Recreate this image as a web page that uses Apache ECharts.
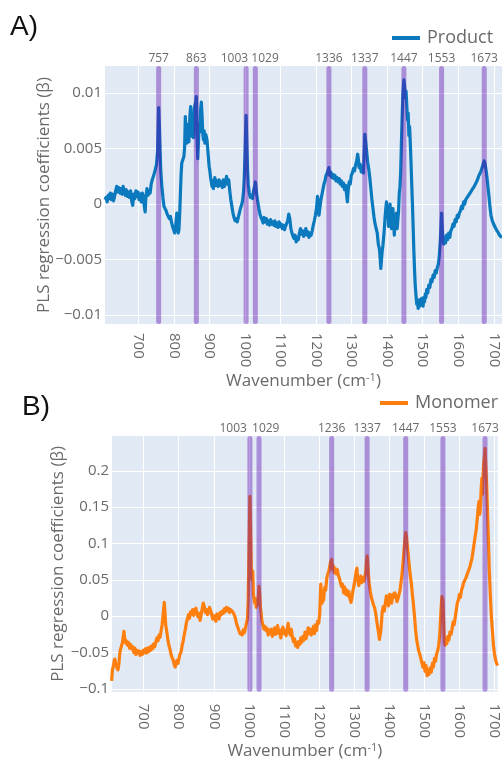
<!DOCTYPE html>
<html>
<head>
<meta charset="utf-8">
<script src="https://cdn.jsdelivr.net/npm/echarts@6/dist/echarts.min.js"></script>
<style>
  html, body { margin: 0; padding: 0; background: #fff; }
  #chart { width: 502px; height: 761px; }
</style>
</head>
<body>
<div id="chart"></div>
<script>
// Panel A: PLS regression coefficients for the product model
const wavenumbersA = [606,609,612,615,618,621,624,627,630,633,636,639,642,645,648,651,654,657,660,663,666,669,672,675,678,681,684,687,690,693,696,699,702,705,708,711,714,717,719,721,724,727,730,733,736,739,742,745,748,751,754,757,759,761,763,766,769,772,775,778,781,784,787,790,793,796,799,802,804,806,808,810,812,814,816,818,820,822,825,828,830,832,834,836,838,840,842,845,847,849,851,853,855,857,859,861,863,865,867,869,871,873,875,877,879,881,883,885,887,889,891,893,895,897,899,901,903,905,907,909,911,913,915,918,921,924,927,930,933,936,939,942,945,948,951,954,957,960,963,966,969,972,975,978,981,984,987,990,993,996,998,1000,1003,1005,1007,1009,1012,1015,1018,1021,1024,1027,1029,1031,1033,1036,1039,1042,1045,1048,1051,1054,1057,1060,1063,1066,1069,1072,1075,1078,1081,1084,1087,1090,1093,1096,1099,1102,1105,1108,1111,1114,1117,1120,1123,1126,1129,1132,1135,1138,1141,1144,1147,1150,1153,1156,1159,1162,1165,1168,1171,1174,1177,1180,1183,1186,1189,1192,1195,1198,1201,1204,1206,1208,1210,1213,1216,1219,1222,1225,1228,1231,1233,1236,1238,1241,1244,1247,1250,1253,1256,1259,1262,1265,1268,1271,1274,1277,1280,1283,1286,1288,1290,1293,1296,1299,1302,1305,1308,1311,1314,1317,1319,1321,1324,1327,1330,1333,1335,1337,1339,1342,1345,1348,1351,1354,1357,1360,1363,1366,1369,1372,1375,1378,1380,1382,1384,1386,1388,1390,1392,1394,1396,1398,1400,1402,1404,1406,1408,1410,1412,1414,1416,1418,1420,1422,1424,1426,1428,1430,1432,1434,1436,1438,1440,1442,1444,1446,1447,1449,1451,1453,1455,1457,1459,1461,1463,1465,1467,1469,1471,1473,1475,1477,1479,1481,1483,1485,1487,1489,1491,1493,1495,1497,1499,1501,1503,1505,1507,1509,1511,1514,1517,1520,1523,1526,1529,1532,1535,1538,1541,1544,1547,1550,1553,1555,1557,1559,1561,1564,1567,1570,1573,1576,1579,1582,1585,1588,1591,1594,1597,1600,1603,1606,1609,1612,1615,1618,1621,1624,1627,1630,1633,1636,1639,1642,1645,1648,1651,1654,1657,1660,1663,1666,1669,1671,1673,1675,1677,1680,1683,1686,1689,1692,1695,1698,1701,1704,1707,1710,1713,1716,1719,1723];
const productCoef = [0.0004,0.0006,0.0002,0.0008,0.0005,0.0010,0.0004,0.0009,0.0003,0.0007,0.0012,0.0016,0.0011,0.0015,0.0010,0.0014,0.0009,0.0016,0.0012,0.0008,0.0013,0.0007,0.0011,0.0006,0.0012,0.0003,-0.0001,0.0009,0.0005,0.0012,0.0007,0.0011,0.0004,0.0009,0.0002,0.0010,0.0006,-0.0003,-0.0007,0.0006,0.0014,0.0008,0.0012,0.0010,0.0018,0.0022,0.0025,0.0028,0.0032,0.0036,0.0048,0.0087,0.0070,0.0048,0.0030,0.0016,0.0006,-0.0002,-0.0004,-0.0006,-0.0009,-0.0008,-0.0013,-0.0011,-0.0016,-0.0020,-0.0019,-0.0026,-0.0022,-0.0015,-0.0008,-0.0020,-0.0026,-0.0023,-0.0010,0.0008,0.0026,0.0037,0.0040,0.0043,0.0051,0.0079,0.0062,0.0055,0.0072,0.0065,0.0056,0.0080,0.0088,0.0070,0.0061,0.0075,0.0060,0.0086,0.0089,0.0092,0.0097,0.0060,0.0041,0.0056,0.0072,0.0065,0.0085,0.0092,0.0080,0.0064,0.0058,0.0066,0.0055,0.0063,0.0061,0.0058,0.0050,0.0042,0.0034,0.0030,0.0024,0.0020,0.0016,0.0021,0.0014,0.0018,0.0024,0.0017,0.0021,0.0016,0.0022,0.0017,0.0020,0.0015,0.0022,0.0016,0.0020,0.0025,0.0018,0.0022,0.0012,0.0004,-0.0002,-0.0008,-0.0012,-0.0015,-0.0013,-0.0016,-0.0012,-0.0008,-0.0004,-0.0001,0.0003,0.0012,0.0025,0.0045,0.0080,0.0055,0.0032,0.0018,0.0010,0.0006,0.0008,0.0005,0.0012,0.0016,0.0020,0.0015,0.0008,0.0002,-0.0004,-0.0009,-0.0012,-0.0014,-0.0017,-0.0012,-0.0016,-0.0013,-0.0018,-0.0015,-0.0019,-0.0014,-0.0018,-0.0016,-0.0019,-0.0015,-0.0020,-0.0017,-0.0021,-0.0016,-0.0020,-0.0018,-0.0022,-0.0019,-0.0023,-0.0020,-0.0021,-0.0015,-0.0009,-0.0013,-0.0022,-0.0026,-0.0029,-0.0031,-0.0028,-0.0034,-0.0030,-0.0032,-0.0026,-0.0022,-0.0027,-0.0024,-0.0029,-0.0026,-0.0022,-0.0028,-0.0025,-0.0030,-0.0026,-0.0028,-0.0024,-0.0019,-0.0015,-0.0010,-0.0004,0.0007,-0.0002,-0.0010,-0.0005,0.0003,0.0008,0.0013,0.0018,0.0021,0.0026,0.0028,0.0030,0.0033,0.0026,0.0029,0.0024,0.0027,0.0023,0.0026,0.0021,0.0024,0.0020,0.0023,0.0018,0.0021,0.0016,0.0019,0.0013,0.0017,0.0008,0.0002,0.0012,0.0020,0.0018,0.0026,0.0028,0.0032,0.0030,0.0035,0.0039,0.0045,0.0040,0.0033,0.0036,0.0029,0.0031,0.0028,0.0045,0.0063,0.0058,0.0048,0.0038,0.0032,0.0024,0.0014,0.0004,-0.0004,-0.0012,-0.0018,-0.0022,-0.0026,-0.0036,-0.0040,-0.0048,-0.0058,-0.0050,-0.0042,-0.0037,-0.0030,-0.0022,-0.0012,-0.0004,0.0002,-0.0010,-0.0006,-0.0020,-0.0008,0.0000,-0.0018,-0.0022,-0.0010,-0.0004,-0.0016,-0.0028,-0.0012,-0.0020,-0.0008,-0.0022,-0.0014,-0.0006,0.0010,0.0016,0.0030,0.0055,0.0078,0.0098,0.0108,0.0112,0.0106,0.0096,0.0102,0.0090,0.0076,0.0082,0.0062,0.0070,0.0055,0.0038,0.0018,0.0000,-0.0020,-0.0042,-0.0060,-0.0074,-0.0082,-0.0090,-0.0086,-0.0094,-0.0088,-0.0092,-0.0086,-0.0091,-0.0085,-0.0089,-0.0092,-0.0084,-0.0088,-0.0081,-0.0084,-0.0077,-0.0080,-0.0073,-0.0075,-0.0068,-0.0070,-0.0064,-0.0066,-0.0060,-0.0062,-0.0057,-0.0054,-0.0045,-0.0030,-0.0008,-0.0022,-0.0032,-0.0036,-0.0030,-0.0035,-0.0028,-0.0032,-0.0026,-0.0030,-0.0024,-0.0022,-0.0018,-0.0020,-0.0014,-0.0016,-0.0010,-0.0012,-0.0008,-0.0006,-0.0002,-0.0004,0.0002,0.0000,0.0004,0.0003,0.0007,0.0006,0.0010,0.0009,0.0013,0.0012,0.0016,0.0017,0.0020,0.0022,0.0025,0.0027,0.0029,0.0032,0.0035,0.0037,0.0039,0.0037,0.0033,0.0026,0.0017,0.0008,-0.0002,-0.0010,-0.0014,-0.0017,-0.0018,-0.0021,-0.0023,-0.0024,-0.0026,-0.0028,-0.0029,-0.0030];

// Panel B: PLS regression coefficients for the monomer model
const wavenumbersB = [609,611,614,616,618,621,624,627,630,632,634,637,640,642,644,646,649,651,654,657,660,663,666,669,672,675,678,681,684,687,690,693,696,699,702,705,708,711,714,717,720,723,726,729,732,735,738,741,744,747,750,753,756,759,761,763,766,769,772,775,778,781,784,787,790,792,795,798,801,804,807,810,813,816,819,822,825,828,831,834,837,840,843,846,849,852,855,858,861,864,867,870,873,876,879,882,885,888,891,894,897,900,903,906,909,912,915,918,921,924,927,930,933,936,939,942,945,948,951,954,957,960,963,966,969,972,975,978,981,984,987,990,993,996,998,1000,1003,1005,1007,1009,1011,1013,1015,1017,1019,1021,1023,1025,1027,1029,1031,1033,1035,1037,1040,1043,1046,1049,1052,1055,1058,1061,1064,1067,1070,1073,1076,1079,1082,1085,1088,1091,1094,1097,1100,1103,1106,1109,1112,1115,1118,1121,1124,1127,1130,1133,1136,1139,1142,1145,1148,1151,1154,1157,1160,1163,1166,1169,1172,1175,1178,1181,1184,1187,1190,1193,1196,1199,1202,1205,1207,1209,1211,1213,1215,1217,1219,1222,1225,1228,1231,1233,1236,1238,1240,1243,1246,1249,1252,1255,1258,1261,1264,1267,1270,1273,1276,1279,1282,1285,1288,1291,1294,1297,1300,1303,1306,1308,1310,1313,1316,1319,1322,1325,1328,1331,1333,1335,1337,1339,1341,1343,1346,1349,1352,1355,1358,1361,1364,1367,1370,1372,1374,1376,1378,1380,1383,1386,1389,1392,1395,1398,1401,1404,1407,1410,1413,1416,1419,1422,1425,1428,1431,1434,1437,1440,1442,1444,1447,1449,1451,1453,1455,1457,1459,1461,1463,1466,1469,1472,1475,1478,1481,1484,1487,1490,1493,1496,1499,1502,1505,1508,1511,1514,1517,1520,1523,1526,1529,1532,1535,1538,1541,1544,1547,1550,1553,1555,1557,1559,1561,1564,1567,1570,1573,1576,1579,1582,1585,1588,1591,1594,1597,1600,1603,1606,1609,1612,1615,1618,1621,1624,1627,1630,1633,1636,1639,1642,1645,1648,1651,1654,1656,1658,1660,1662,1664,1666,1668,1670,1672,1673,1675,1677,1679,1681,1683,1685,1688,1691,1694,1697,1700,1703,1706,1709];
const monomerCoef = [-0.089,-0.075,-0.068,-0.062,-0.059,-0.066,-0.071,-0.074,-0.064,-0.052,-0.046,-0.041,-0.036,-0.028,-0.021,-0.030,-0.037,-0.034,-0.040,-0.036,-0.044,-0.039,-0.045,-0.042,-0.050,-0.044,-0.053,-0.047,-0.051,-0.048,-0.054,-0.049,-0.053,-0.047,-0.050,-0.045,-0.051,-0.044,-0.049,-0.043,-0.047,-0.041,-0.045,-0.038,-0.042,-0.035,-0.030,-0.034,-0.026,-0.029,-0.020,-0.011,0.004,0.019,0.006,-0.012,-0.021,-0.032,-0.040,-0.045,-0.052,-0.057,-0.060,-0.066,-0.070,-0.068,-0.061,-0.065,-0.058,-0.052,-0.049,-0.040,-0.034,-0.025,-0.018,-0.009,-0.004,0.002,-0.003,0.006,0.003,0.009,0.001,0.008,0.011,0.004,-0.001,0.004,-0.006,0.002,0.010,0.018,0.013,0.005,0.009,0.002,0.006,0.012,0.008,0.002,-0.004,0.001,-0.002,-0.007,0.003,0.000,-0.004,0.005,0.002,0.007,0.004,0.010,0.006,0.012,0.008,0.011,0.005,0.009,0.010,0.006,0.003,0.000,-0.006,-0.012,-0.014,-0.020,-0.024,-0.022,-0.026,-0.019,-0.023,-0.017,-0.010,-0.004,0.020,0.080,0.165,0.120,0.065,0.050,0.062,0.030,0.022,0.018,0.024,0.012,0.020,0.016,0.028,0.041,0.030,0.012,0.004,-0.006,-0.012,-0.018,-0.014,-0.020,-0.017,-0.026,-0.019,-0.024,-0.018,-0.028,-0.022,-0.016,-0.025,-0.020,-0.013,-0.024,-0.019,-0.030,-0.021,-0.015,-0.024,-0.020,-0.027,-0.018,-0.010,-0.022,-0.026,-0.018,-0.029,-0.035,-0.031,-0.041,-0.036,-0.043,-0.035,-0.039,-0.030,-0.036,-0.028,-0.033,-0.022,-0.031,-0.025,-0.016,-0.024,-0.018,-0.026,-0.022,-0.014,-0.024,-0.012,-0.020,-0.007,-0.010,0.004,0.044,0.030,0.018,0.028,0.022,0.035,0.040,0.036,0.052,0.058,0.062,0.070,0.075,0.078,0.064,0.070,0.060,0.066,0.058,0.064,0.056,0.052,0.046,0.041,0.044,0.032,0.040,0.030,0.036,0.028,0.034,0.024,0.019,0.026,0.036,0.043,0.052,0.062,0.066,0.052,0.042,0.048,0.055,0.046,0.053,0.048,0.056,0.060,0.074,0.083,0.070,0.056,0.045,0.034,0.026,0.027,0.016,0.012,0.005,-0.005,-0.015,-0.024,-0.032,-0.034,-0.020,-0.008,0.006,0.013,0.007,0.018,0.028,0.022,0.014,0.030,0.024,0.018,0.030,0.026,0.032,0.028,0.020,0.024,0.030,0.036,0.048,0.060,0.078,0.090,0.102,0.115,0.110,0.100,0.090,0.080,0.070,0.060,0.058,0.045,0.030,0.016,0.000,-0.018,-0.032,-0.040,-0.048,-0.052,-0.058,-0.060,-0.070,-0.064,-0.076,-0.068,-0.082,-0.074,-0.080,-0.071,-0.077,-0.065,-0.070,-0.058,-0.062,-0.052,-0.048,-0.040,-0.026,0.004,0.027,0.022,-0.005,-0.036,-0.040,-0.032,-0.038,-0.028,-0.033,-0.022,-0.025,-0.018,-0.008,-0.012,-0.002,0.008,0.018,0.022,0.030,0.026,0.036,0.040,0.046,0.044,0.052,0.054,0.060,0.064,0.068,0.074,0.080,0.090,0.100,0.110,0.120,0.135,0.152,0.158,0.140,0.150,0.175,0.190,0.168,0.200,0.215,0.222,0.231,0.210,0.190,0.160,0.130,0.100,0.065,0.030,0.000,-0.020,-0.040,-0.052,-0.060,-0.065,-0.068];

// Marked bands: where each band sits, and the text written above it
const bandPositionsA = [757, 863, 1003, 1029, 1236, 1337, 1447, 1553, 1673];
const bandTextsA = ['757', '863', '1003', '1029', '1336', '1337', '1447', '1553', '1673'];
const bandPositionsB = [1003, 1029, 1236, 1337, 1447, 1553, 1673];
const bandTextsB = ['1003', '1029', '1236', '1337', '1447', '1553', '1673'];

// Tick values
const xTicks = [700, 800, 900, 1000, 1100, 1200, 1300, 1400, 1500, 1600, 1700];
const yTicksA = [-0.01, -0.005, 0, 0.005, 0.01];
const yTicksB = [-0.1, -0.05, 0, 0.05, 0.1, 0.15, 0.2];

const FONT = '"Open Sans", "DejaVu Sans", sans-serif';
const GREY = '#6a6a6a';
const PLOT_BG = '#e0e9f4';
const BAND = 'rgba(93, 5, 174, 0.4)';

const rangeA = { xMin: 606, xMax: 1723, yMin: -0.0108, yMax: 0.01245 };
const rangeB = { xMin: 610, xMax: 1709, yMin: -0.1041, yMax: 0.2479 };

// The two close bands (1003 / 1029) get their captions pushed apart
const captionShiftA = { 2: { align: 'right', dx: 2 }, 3: { align: 'left', dx: -4 } };
const captionShiftB = { 0: { align: 'right', dx: -3 }, 1: { align: 'left', dx: -7 } };

function signed(v) {
  return v < 0 ? '\u2212' + String(Math.abs(v)) : String(v);
}

function xAxisFor(gridIndex, range, labelMargin) {
  return {
    type: 'value', gridIndex, min: range.xMin, max: range.xMax,
    name: 'Wavenumber (cm{sup|-1})', nameLocation: 'middle', nameGap: 48,
    nameTextStyle: {
      fontFamily: FONT, fontSize: 17, color: GREY, verticalAlign: 'top',
      rich: { sup: { fontFamily: FONT, fontSize: 11, color: GREY, padding: [0, 0, 8, 0] } }
    },
    axisLine: { show: false },
    axisTick: { show: false, customValues: xTicks },
    axisLabel: {
      customValues: xTicks, rotate: -90, margin: labelMargin,
      color: GREY, fontFamily: FONT, fontSize: 15, formatter: (v) => String(v)
    },
    splitLine: { show: true, lineStyle: { color: '#ffffff', width: 1 } }
  };
}

function yAxisFor(gridIndex, range, ticks, nameGap) {
  return {
    type: 'value', gridIndex, min: range.yMin, max: range.yMax,
    name: 'PLS regression coefficients (\u03B2)', nameLocation: 'middle', nameGap,
    nameRotate: 90, nameMoveOverlap: false,
    nameTextStyle: { fontFamily: FONT, fontSize: 17, color: GREY },
    axisLine: { show: false },
    axisTick: { show: false, customValues: ticks },
    axisLabel: { customValues: ticks, margin: 3, color: GREY, fontFamily: FONT, fontSize: 15, formatter: signed },
    splitLine: { show: true, lineStyle: { color: '#ffffff', width: 1 } }
  };
}

function spectrum(name, gridIndex, xs, ys, color) {
  return {
    name, type: 'line', xAxisIndex: gridIndex, yAxisIndex: gridIndex,
    data: xs.map((x, i) => [x, ys[i]]),
    showSymbol: false, symbol: 'none', z: 3, animation: false,
    lineStyle: { color, width: 3.2, join: 'round' },
    itemStyle: { color }
  };
}

function bands(gridIndex, positions, texts, range, shifts) {
  return {
    type: 'custom', xAxisIndex: gridIndex, yAxisIndex: gridIndex,
    z: 5, clip: false, silent: true, animation: false,
    data: positions.map((p, i) => [p, i]),
    renderItem(params, api) {
      const x = api.value(0);
      const idx = api.value(1);
      const top = api.coord([x, range.yMax]);
      const bottom = api.coord([x, range.yMin]);
      const shift = shifts[idx] || { align: 'center', dx: 0 };
      return {
        type: 'group',
        children: [
          {
            type: 'line',
            shape: { x1: top[0], y1: top[1] + 2.5, x2: bottom[0], y2: bottom[1] - 2.5 },
            style: { stroke: BAND, lineWidth: 5, lineCap: 'round' }
          },
          {
            type: 'text',
            style: {
              text: texts[idx], x: top[0] + shift.dx, y: top[1] - 7,
              align: shift.align, verticalAlign: 'middle',
              fill: GREY, fontSize: 12, fontFamily: FONT
            }
          }
        ]
      };
    }
  };
}

const chart = echarts.init(document.getElementById('chart'), null, { renderer: 'canvas' });

chart.setOption({
  backgroundColor: '#ffffff',
  animation: false,
  textStyle: { fontFamily: FONT },
  grid: [
    { left: 105, top: 66, right: 0, height: 258, show: true, backgroundColor: PLOT_BG, borderWidth: 0 },
    { left: 112, top: 436, right: 0, height: 257, show: true, backgroundColor: PLOT_BG, borderWidth: 0 }
  ],
  xAxis: [xAxisFor(0, rangeA, 9), xAxisFor(1, rangeB, 12)],
  yAxis: [yAxisFor(0, rangeA, yTicksA, 52), yAxisFor(1, rangeB, yTicksB, 45)],
  legend: [
    {
      data: ['Product'], left: 392, top: 29, padding: 0, itemGap: 0,
      icon: 'rect', itemWidth: 28, itemHeight: 4, selectedMode: false,
      textStyle: { fontFamily: FONT, fontSize: 18, color: GREY, padding: [0, 0, 0, 2] }
    },
    {
      data: ['Monomer'], left: 380, top: 394, padding: 0, itemGap: 0,
      icon: 'rect', itemWidth: 28, itemHeight: 4, selectedMode: false,
      textStyle: { fontFamily: FONT, fontSize: 18, color: GREY, padding: [0, 0, 0, 2] }
    }
  ],
  graphic: [
    { type: 'text', left: 10, top: 13, style: { text: 'A)', fontSize: 28, fontFamily: 'Liberation Sans, Arial, sans-serif', fill: '#111' } },
    { type: 'text', left: 22, top: 393, style: { text: 'B)', fontSize: 28, fontFamily: 'Liberation Sans, Arial, sans-serif', fill: '#111' } }
  ],
  series: [
    spectrum('Product', 0, wavenumbersA, productCoef, '#0a79bd'),
    spectrum('Monomer', 1, wavenumbersB, monomerCoef, '#ff7f0e'),
    bands(0, bandPositionsA, bandTextsA, rangeA, captionShiftA),
    bands(1, bandPositionsB, bandTextsB, rangeB, captionShiftB)
  ]
});
</script>
</body>
</html>
